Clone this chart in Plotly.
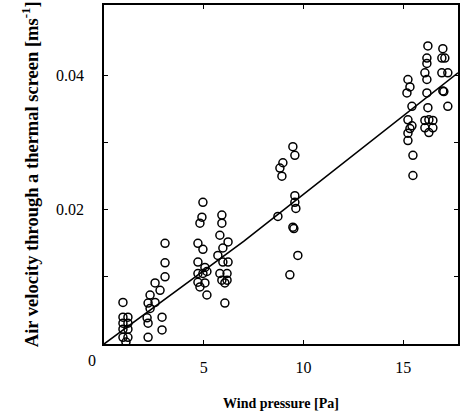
import plotly.graph_objects as go

# Measured data (wind pressure [Pa], air velocity [m/s])
pressure = [
    0.95, 0.95, 1.2, 0.95, 1.2, 0.95, 1.2, 0.95, 1.2, 1.1,
    2.31, 2.21, 2.31, 2.16, 2.21, 2.21, 2.56, 2.56, 2.81, 2.91, 2.91, 3.06, 3.06, 3.06,
    4.96, 4.91, 4.81, 4.71, 4.96, 4.71, 5.06, 4.71, 4.96, 4.71, 5.06, 5.16, 4.81, 5.16,
    5.91, 5.91, 5.81, 6.22, 5.96, 5.71, 5.96, 6.22, 5.81, 6.17, 5.91, 6.17, 6.06, 6.06,
    9.47, 9.57, 8.97, 8.82, 8.92, 9.57, 9.57, 9.62, 8.72, 9.47, 9.52, 9.72, 9.32,
    15.24, 15.34, 15.19, 15.44, 15.24, 15.44, 15.34, 15.24, 15.24, 15.49, 15.49,
    16.24, 16.19, 16.19, 16.09, 16.19, 16.19, 16.24, 16.09, 16.29, 16.49, 16.09, 16.49, 16.29,
    16.99, 16.94, 17.09, 16.94, 17.24, 16.99, 17.04, 17.24,
]
velocity = [
    0.0062, 0.0040, 0.0040, 0.0031, 0.0031, 0.0022, 0.0022, 0.0010, 0.0010, 0.0003,
    0.0073, 0.0061, 0.0053, 0.0039, 0.0031, 0.0010, 0.0062, 0.0091, 0.0080, 0.0040, 0.0021, 0.0100, 0.0121, 0.0150,
    0.0211, 0.0189, 0.0180, 0.0150, 0.0141, 0.0122, 0.0114, 0.0105, 0.0105, 0.0092, 0.0091, 0.0108, 0.0085, 0.0073,
    0.0192, 0.0180, 0.0162, 0.0152, 0.0143, 0.0132, 0.0122, 0.0122, 0.0105, 0.0105, 0.0095, 0.0095, 0.0091, 0.0061,
    0.0294, 0.0281, 0.0270, 0.0262, 0.0250, 0.0221, 0.0211, 0.0202, 0.0190, 0.0174, 0.0172, 0.0132, 0.0103,
    0.0394, 0.0383, 0.0374, 0.0354, 0.0334, 0.0325, 0.0321, 0.0314, 0.0303, 0.0281, 0.0251,
    0.0444, 0.0426, 0.0418, 0.0404, 0.0394, 0.0374, 0.0352, 0.0333, 0.0334, 0.0333, 0.0322, 0.0322, 0.0315,
    0.0440, 0.0426, 0.0426, 0.0404, 0.0404, 0.0377, 0.0376, 0.0354,
]

# Fitted curve
fit_x = [0.0, 7.0, 17.75]
fit_y = [0.0, 0.0153, 0.0404]

x_ticks = [5, 10, 15]
x_ticklabels = ["5", "10", "15"]
y_ticks = [0.02, 0.04]
y_ticklabels = ["0.02", "0.04"]
y_minor_ticks = [0.01, 0.03]

FONT = "Liberation Serif"

fig = go.Figure()
fig.add_trace(go.Scatter(
    x=fit_x, y=fit_y, mode="lines",
    line=dict(color="black", width=1.6), showlegend=False,
))
fig.add_trace(go.Scatter(
    x=pressure, y=velocity, mode="markers",
    marker=dict(symbol="circle-open", size=8, color="black", line=dict(width=1.5, color="black")),
    showlegend=False,
))

axis_common = dict(
    showgrid=False, zeroline=False, showline=True, linecolor="black", linewidth=1.5,
    mirror="ticks", ticks="inside", ticklen=4, tickcolor="black", tickwidth=1.2,
    tickfont=dict(family=FONT, size=16, color="black"),
)
fig.update_xaxes(range=[0, 17.75], tickvals=x_ticks, ticktext=x_ticklabels,
                 ticklabelstandoff=8, **axis_common)
fig.update_yaxes(range=[0, 0.0505], tickvals=y_ticks, ticktext=y_ticklabels,
                 ticklabelstandoff=15,
                 minor=dict(tickvals=y_minor_ticks, ticks="inside", ticklen=4,
                            tickcolor="black", tickwidth=1.2, showgrid=False),
                 **axis_common)

fig.add_annotation(text="0", x=0, y=0, xref="x", yref="y", xanchor="right", yanchor="middle",
                   xshift=-6, yshift=-16, showarrow=False,
                   font=dict(family=FONT, size=16, color="black"))
fig.add_annotation(text="<b>Wind pressure [Pa]</b>", x=0.5, y=-0.175, xref="paper", yref="paper",
                   xanchor="center", yanchor="middle", showarrow=False,
                   font=dict(family=FONT, size=14, color="black"))
fig.add_annotation(text="<b>Air velocity through a thermal screen [ms<sup>-1</sup>]</b>",
                   x=-0.21, y=0.5, xref="paper", yref="paper", textangle=-90,
                   xanchor="center", yanchor="middle", showarrow=False,
                   font=dict(family=FONT, size=18.5, color="black"))

fig.update_layout(
    width=466, height=418,
    margin=dict(l=104, r=8, t=5, b=74, autoexpand=False),
    paper_bgcolor="white", plot_bgcolor="white",
)

fig.write_html("out.html", config={"displayModeBar": False},
               post_script="document.body.style.margin='0px';")
